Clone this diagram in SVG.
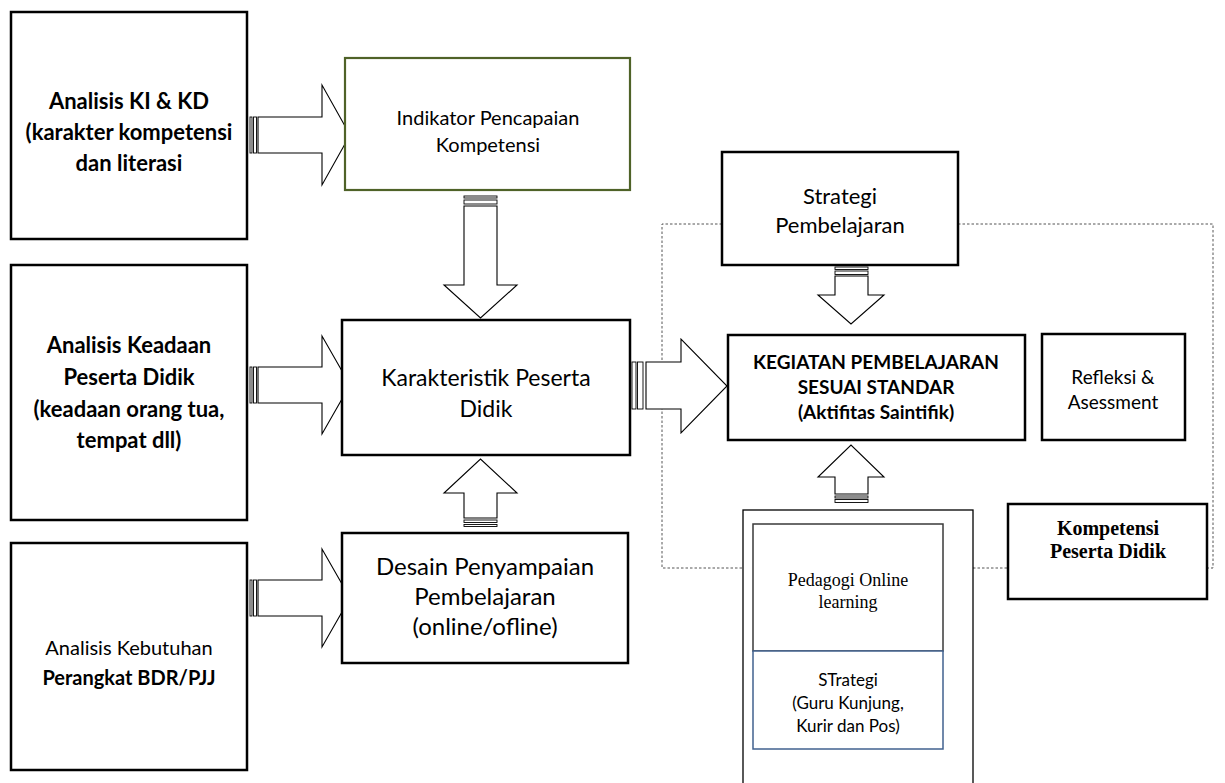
<svg xmlns="http://www.w3.org/2000/svg" width="1225" height="783" viewBox="0 0 1225 783">
<style>
.box{fill:#fff;stroke:#000;stroke-width:2.5}
.green{fill:#fff;stroke:#4f6228;stroke-width:2.2}
.thin{fill:#fff;stroke:#000;stroke-width:1.3}
.arr{fill:#fff;stroke:#000;stroke-width:1.1;stroke-linejoin:miter}
.bar{fill:#fff;stroke:#000;stroke-width:0.9}
.dot{fill:none;stroke:#555;stroke-width:1;stroke-dasharray:2.5 2}
text{font-family:Lato,"Liberation Sans",sans-serif;fill:#000;text-anchor:middle}
.b{font-weight:bold}
.lb{font-weight:bold;font-size:22px}
.tnr{font-family:"Liberation Serif","Times New Roman",serif}
</style>
<rect width="1225" height="783" fill="#fff"/>
<g id="connectors">
  <path class="dot" d="M722,224 H662 V568 H743"/>
  <path class="dot" d="M958,224 H1213 V568 H1207"/>
  <path class="dot" d="M973,568 H1008"/>
  <!-- box1 -> indikator -->
  <rect class="bar" x="250" y="117" width="2" height="36"/>
  <rect class="bar" x="253.5" y="117" width="3" height="36"/>
  <path class="arr" d="M258,117 H322 V85 L350,135 L322,185 V153 H258 Z"/>
  <!-- box2 -> karakteristik -->
  <rect class="bar" x="250" y="367" width="2" height="36"/>
  <rect class="bar" x="253.5" y="367" width="3" height="36"/>
  <path class="arr" d="M258,367 H322 V336 L350,385 L322,434 V403 H258 Z"/>
  <!-- box3 -> desain -->
  <rect class="bar" x="250" y="580" width="2" height="36"/>
  <rect class="bar" x="253.5" y="580" width="3" height="36"/>
  <path class="arr" d="M258,580 H322 V549 L350,598 L322,647 V616 H258 Z"/>
  <!-- indikator -> karakteristik -->
  <rect class="bar" x="464" y="196" width="33" height="2"/>
  <rect class="bar" x="464" y="200" width="33" height="4"/>
  <path class="arr" d="M464,206 V285 H444 L480.5,318 L517,285 H497 V206 Z"/>
  <!-- desain -> karakteristik -->
  <path class="arr" d="M464,518 V493 H444 L480.5,459 L517,493 H497 V518 Z"/>
  <rect class="bar" x="464" y="520" width="33" height="2.5"/>
  <rect class="bar" x="464" y="524.5" width="33" height="2"/>
  <!-- karakteristik -> kegiatan -->
  <rect class="bar" x="632" y="362" width="4" height="47"/>
  <rect class="bar" x="637.5" y="362" width="5.5" height="47"/>
  <path class="arr" d="M646,362 H681 V339 L727,386 L681,433 V409 H646 Z"/>
  <!-- strategi -> kegiatan -->
  <rect class="bar" x="835" y="267" width="33" height="2.5"/>
  <rect class="bar" x="835" y="271" width="33" height="3.5"/>
  <path class="arr" d="M835,276 V295 H818 L851,324 L884,295 H868 V276 Z"/>
  <!-- online container -> kegiatan -->
  <path class="arr" d="M835,494 V477 H818 L851,445 L884,477 H868 V494 Z"/>
  <rect class="bar" x="835" y="496" width="33" height="2"/>
  <rect class="bar" x="835" y="499.5" width="33" height="3"/>
</g>
<g id="analisis-ki-kd">
  <rect class="box" x="11" y="12" width="236" height="227"/>
  <text class="lb" x="129" y="109">Analisis KI &amp; KD</text>
  <text class="lb" x="129" y="140">(karakter kompetensi</text>
  <text class="lb" x="129" y="171">dan literasi</text>
</g>
<g id="analisis-keadaan">
  <rect class="box" x="11" y="265" width="236" height="255"/>
  <text class="lb" x="129" y="353">Analisis Keadaan</text>
  <text class="lb" x="129" y="385">Peserta Didik</text>
  <text class="lb" x="129" y="417">(keadaan orang tua,</text>
  <text class="lb" x="129" y="448">tempat dll)</text>
</g>
<g id="analisis-kebutuhan">
  <rect class="box" x="11" y="543" width="236" height="227"/>
  <text font-size="20" x="129" y="655">Analisis Kebutuhan</text>
  <text class="b" font-size="20" x="129" y="685">Perangkat BDR/PJJ</text>
</g>
<g id="indikator">
  <rect class="green" x="345" y="58" width="285" height="132"/>
  <text font-size="20" x="488" y="125">Indikator Pencapaian</text>
  <text font-size="20" x="488" y="152">Kompetensi</text>
</g>
<g id="karakteristik">
  <rect class="box" x="342" y="320" width="288" height="135"/>
  <text font-size="23" x="486" y="386">Karakteristik Peserta</text>
  <text font-size="23" x="486" y="417">Didik</text>
</g>
<g id="desain">
  <rect class="box" x="342" y="533" width="286" height="130"/>
  <text font-size="24" x="485" y="575">Desain Penyampaian</text>
  <text font-size="24" x="485" y="605">Pembelajaran</text>
  <text font-size="24" x="485" y="635">(online/ofline)</text>
</g>
<g id="strategi">
  <rect class="box" x="722" y="152" width="236" height="113"/>
  <text font-size="22" x="840" y="204">Strategi</text>
  <text font-size="22" x="840" y="233">Pembelajaran</text>
</g>
<g id="kegiatan">
  <rect class="box" x="728" y="335" width="297" height="105"/>
  <text class="b" font-size="19" x="876" y="369">KEGIATAN PEMBELAJARAN</text>
  <text class="b" font-size="19" x="876" y="394">SESUAI STANDAR</text>
  <text class="b" font-size="19" x="876" y="419">(Aktifitas Saintifik)</text>
</g>
<g id="refleksi">
  <rect class="box" x="1042" y="334" width="143" height="106"/>
  <text font-size="19" x="1113" y="384">Refleksi &amp;</text>
  <text font-size="19" x="1113" y="409">Asessment</text>
</g>
<g id="kompetensi">
  <rect class="box" x="1008" y="504" width="199" height="95"/>
  <text class="b tnr" font-size="20" x="1108" y="535">Kompetensi</text>
  <text class="b tnr" font-size="20" x="1108" y="558">Peserta Didik</text>
</g>
<g id="online-container">
  <rect class="thin" x="743" y="510" width="230" height="282"/>
</g>
<g id="pedagogi">
  <rect x="753" y="524" width="190" height="127" fill="#fff" stroke="#3a3a3a" stroke-width="1.5"/>
  <text class="tnr" font-size="18" x="848" y="586">Pedagogi Online</text>
  <text class="tnr" font-size="18" x="848" y="608">learning</text>
</g>
<g id="strategi-kunjung">
  <rect x="753" y="651" width="190" height="98" fill="#fff" stroke="#41618f" stroke-width="1.5"/>
  <text font-size="17" x="848" y="686">STrategi</text>
  <text font-size="17" x="848" y="709">(Guru Kunjung,</text>
  <text font-size="17" x="848" y="732">Kurir dan Pos)</text>
</g>
</svg>
